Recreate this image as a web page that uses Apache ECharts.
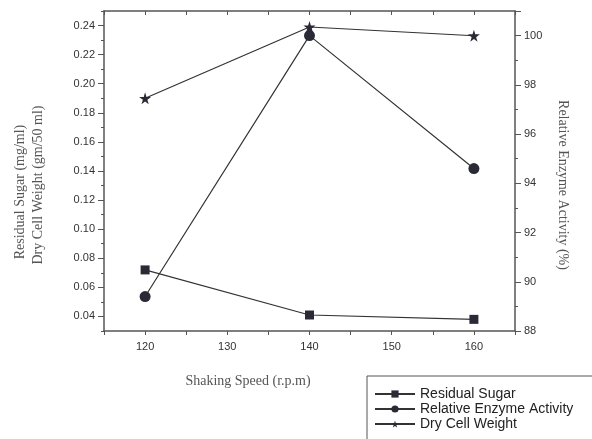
<!DOCTYPE html>
<html>
<head>
<meta charset="utf-8">
<script src="https://cdn.jsdelivr.net/npm/echarts@6/dist/echarts.min.js"></script>
<style>
  html, body { margin: 0; padding: 0; background: #fff; }
  #chart { width: 592px; height: 439px; }
</style>
</head>
<body>
<div id="chart"></div>
<script>
// values
var speeds = [120, 140, 160]
var residualSugar = [0.072, 0.041, 0.038]
var enzymeActivity = [89.4, 100.0, 94.6]
var dryCellWeight = [0.190, 0.239, 0.233]
var leftTicks = [0.04, 0.06, 0.08, 0.10, 0.12, 0.14, 0.16, 0.18, 0.20, 0.22, 0.24]

var starPath = 'path://M50,0 L61,35 L98,35 L68,57 L79,91 L50,70 L21,91 L32,57 L2,35 L39,35 Z'
var ink = '#333'
var markColor = '#2a2a36'

function pairs (ys) {
  let out = []
  for (let i = 0; i < speeds.length; i++) {
    out.push([speeds[i], ys[i]])
  }
  return out
}

let myChart = echarts.init(document.getElementById('chart'))

let tickLabel = {
  color: '#333',
  fontSize: 11,
  fontFamily: 'Liberation Sans'
}

let option = {
  animation: false,
  grid: { left: 104, right: 77, top: 11, bottom: 108 },
  xAxis: [
    {
      type: 'value',
      position: 'bottom',
      min: 115,
      max: 165,
      interval: 5,
      axisLine: { lineStyle: { color: '#555', width: 1.5 } },
      axisTick: { inside: false, length: 4, lineStyle: { color: '#555' } },
      axisLabel: Object.assign({
        margin: 10,
        formatter: function (v) { return v % 10 === 0 ? String(v) : '' }
      }, tickLabel),
      splitLine: { show: false }
    },
    {
      type: 'value',
      position: 'top',
      min: 115,
      max: 165,
      interval: 5,
      axisLine: { lineStyle: { color: '#555', width: 1.5 } },
      axisTick: { inside: true, length: 4, lineStyle: { color: '#555' } },
      axisLabel: { show: false },
      splitLine: { show: false }
    }
  ],
  yAxis: [
    {
      type: 'value',
      position: 'left',
      min: 0.03,
      max: 0.25,
      axisLine: { show: true, lineStyle: { color: '#555', width: 1.5 } },
      axisTick: { show: true, length: 6, customValues: leftTicks, lineStyle: { color: '#555' } },
      axisLabel: Object.assign({
        margin: 9,
        customValues: leftTicks,
        formatter: function (v) { return v.toFixed(2) }
      }, tickLabel),
      splitLine: { show: false }
    },
    {
      type: 'value',
      position: 'right',
      min: 88,
      max: 101,
      interval: 2,
      axisLine: { show: true, lineStyle: { color: '#555', width: 1.5 } },
      axisTick: { show: true, length: 6, lineStyle: { color: '#555' } },
      minorTick: { show: true, splitNumber: 2, length: 3, lineStyle: { color: '#555' } },
      axisLabel: Object.assign({
        margin: 9,
        showMaxLabel: false,
        formatter: function (v) { return v % 2 === 0 ? String(v) : '' }
      }, tickLabel),
      splitLine: { show: false }
    },
    {
      // minor ticks for the left axis
      type: 'value',
      position: 'left',
      min: 0.03,
      max: 0.25,
      interval: 0.01,
      axisLine: { show: false },
      axisTick: { show: true, length: 3, lineStyle: { color: '#555' } },
      axisLabel: { show: false },
      splitLine: { show: false }
    }
  ],
  legend: {
    orient: 'vertical',
    left: 374,
    top: 387,
    padding: 0,
    itemWidth: 40,
    itemHeight: 9,
    itemGap: 1,
    textStyle: { fontSize: 14, lineHeight: 14, fontFamily: 'Liberation Sans', color: '#222' },
    data: ['Residual Sugar', 'Relative Enzyme Activity', 'Dry Cell Weight']
  },
  graphic: [
    {
      type: 'rect',
      shape: { x: 367, y: 376, width: 240, height: 80 },
      style: { fill: 'none', stroke: '#555', lineWidth: 1 }
    },
    {
      type: 'text',
      x: 20, y: 192, rotation: Math.PI / 2,
      style: { text: 'Residual Sugar (mg/ml)', fill: '#555', font: '14px "Liberation Serif"', align: 'center', verticalAlign: 'middle' }
    },
    {
      type: 'text',
      x: 38, y: 185, rotation: Math.PI / 2,
      style: { text: 'Dry Cell Weight (gm/50 ml)', fill: '#555', font: '14px "Liberation Serif"', align: 'center', verticalAlign: 'middle' }
    },
    {
      type: 'text',
      x: 563, y: 185, rotation: -Math.PI / 2,
      style: { text: 'Relative Enzyme Activity (%)', fill: '#555', font: '14px "Liberation Serif"', align: 'center', verticalAlign: 'middle' }
    },
    {
      type: 'text',
      x: 248, y: 381,
      style: { text: 'Shaking Speed (r.p.m)', fill: '#555', font: '14px "Liberation Serif"', align: 'center', verticalAlign: 'middle' }
    }
  ],
  series: [
    {
      name: 'Residual Sugar',
      type: 'line',
      xAxisIndex: 0,
      yAxisIndex: 0,
      data: pairs(residualSugar),
      symbol: 'rect',
      symbolSize: 9,
      itemStyle: { color: markColor },
      lineStyle: { color: ink, width: 1.2 }
    },
    {
      name: 'Relative Enzyme Activity',
      type: 'line',
      xAxisIndex: 0,
      yAxisIndex: 1,
      data: pairs(enzymeActivity),
      symbol: 'circle',
      symbolSize: 11,
      itemStyle: { color: markColor },
      lineStyle: { color: ink, width: 1.2 }
    },
    {
      name: 'Dry Cell Weight',
      type: 'line',
      xAxisIndex: 0,
      yAxisIndex: 0,
      data: pairs(dryCellWeight),
      symbol: starPath,
      symbolSize: 12,
      itemStyle: { color: markColor },
      lineStyle: { color: ink, width: 1.2 }
    }
  ]
}

myChart.setOption(option)
</script>
</body>
</html>
